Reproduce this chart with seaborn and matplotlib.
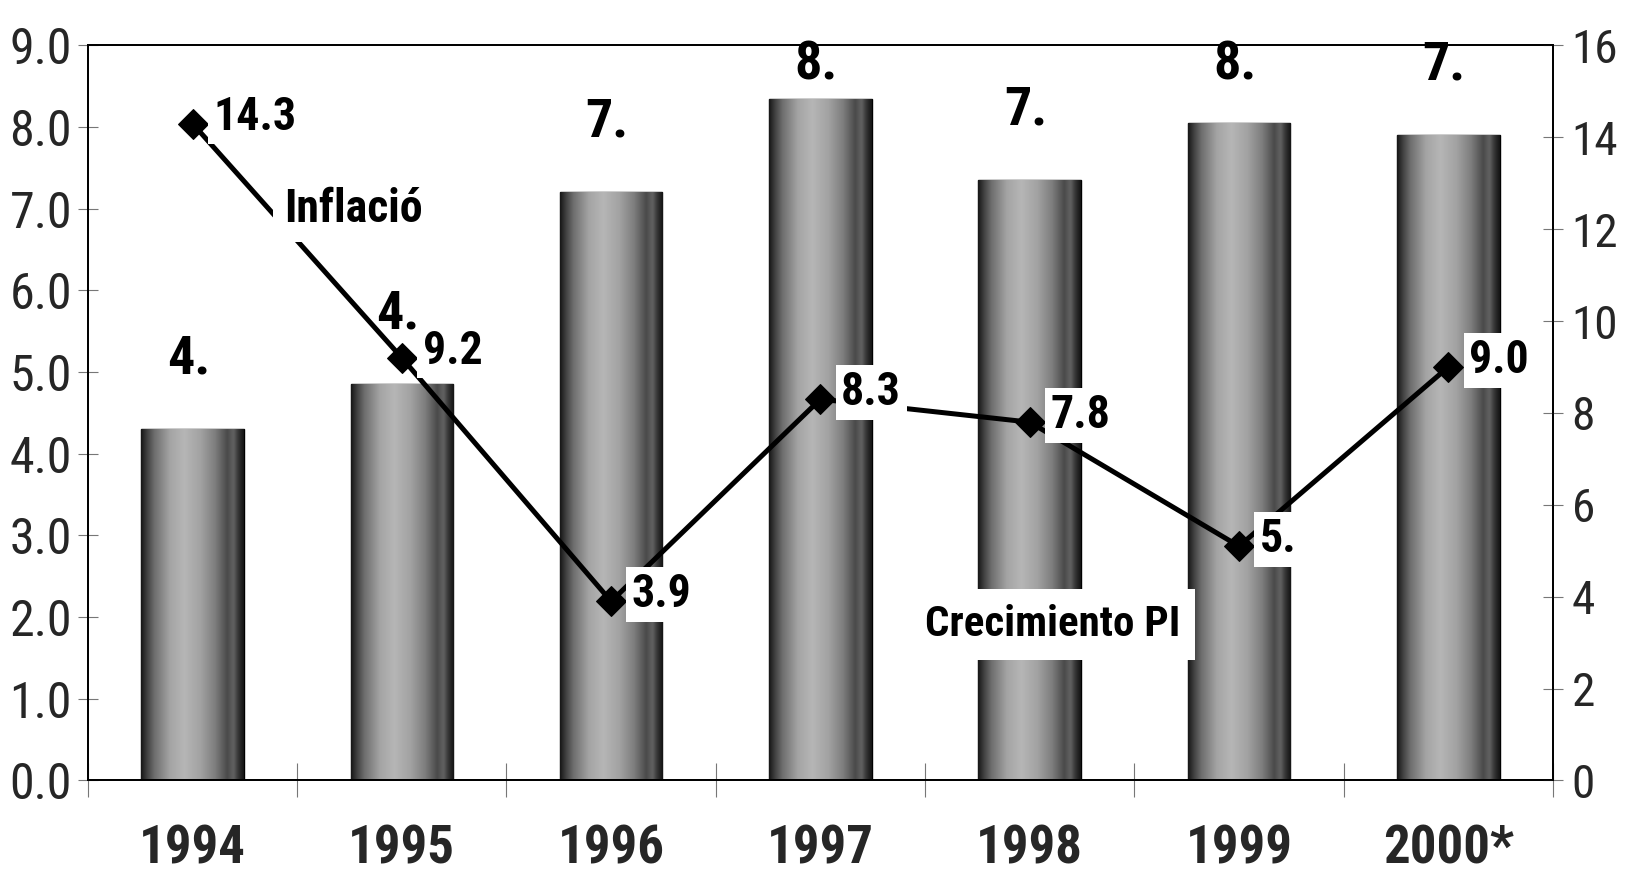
import numpy as np
import pandas as pd
import matplotlib
matplotlib.use("Agg")
import matplotlib.pyplot as plt
import matplotlib.font_manager as fm
from matplotlib.colors import LinearSegmentedColormap
import seaborn as sns

# ---------------- data ----------------
years = ["1994", "1995", "1996", "1997", "1998", "1999", "2000*"]
growth = [4.3, 4.85, 7.2, 8.35, 7.35, 8.05, 7.9]          # Crecimiento PI (left axis)
growth_labels = ["4.", "4.", "7.", "8.", "7.", "8.", "7."]
inflation = [14.3, 9.2, 3.9, 8.3, 7.8, 5.1, 9.0]          # Inflació (right axis)
inflation_labels = ["14.3", "9.2", "3.9", "8.3", "7.8", "5.", "9.0"]
left_ticks = [0, 1, 2, 3, 4, 5, 6, 7, 8, 9]
left_ticklabels = ["0.0", "1.0", "2.0", "3.0", "4.0", "5.0", "6.0", "7.0", "8.0", "9.0"]
right_ticks = [0, 2, 4, 6, 8, 10, 12, 14, 16]
series_infl = "Inflació"
series_growth = "Crecimiento PI"


def pick_font(names):
    for n in names:
        try:
            fm.findfont(fm.FontProperties(family=n), fallback_to_default=False)
            return n
        except Exception:
            pass
    return "DejaVu Sans"


FONT = pick_font(["Liberation Sans Narrow", "Arial Narrow", "Roboto Condensed", "Liberation Sans"])

sns.set_theme(style="white")
plt.rcParams["font.family"] = [FONT, "DejaVu Sans"]

fig = plt.figure(figsize=(16.27, 8.74), dpi=100)
ax = fig.add_axes([0.054, 0.107, 0.9005, 0.841])

df = pd.DataFrame({"year": years, "growth": growth})
sns.barplot(data=df, x="year", y="growth", color="#888888", saturation=1,
            width=0.49, edgecolor="black", linewidth=1.0, ax=ax, zorder=2)

# cylindrical shading inside each bar
stops = [(0.0, "#161616"), (0.05, "#3c3c3c"), (0.13, "#6e6e6e"), (0.28, "#a4a4a4"),
         (0.42, "#b6b6b6"), (0.58, "#a2a2a2"), (0.72, "#7e7e7e"), (0.84, "#4a4a4a"),
         (0.9, "#626262"), (0.95, "#333333"), (1.0, "#141414")]
cmap = LinearSegmentedColormap.from_list("cyl", stops)
grad = np.linspace(0, 1, 256).reshape(1, -1)
for p in ax.patches:
    x0, w, h = p.get_x(), p.get_width(), p.get_height()
    im = ax.imshow(grad, cmap=cmap, aspect="auto", extent=[x0, x0 + w, 0, h],
                   zorder=2.5, interpolation="bicubic")
    im.set_clip_path(p)

ax.set_xlim(-0.5, len(years) - 0.5)
ax.set_ylim(0, 9)
ax.set_yticks(left_ticks)
ax.set_yticklabels(left_ticklabels)
ax.set_xlabel("")
ax.set_ylabel("")

# bar value labels
for i, (v, lab) in enumerate(zip(growth, growth_labels)):
    ax.text(i - 0.02, min(v + 0.55, 8.45), lab, ha="center", va="bottom",
            fontsize=39, fontweight="bold", color="black", zorder=6)

for sp in ax.spines.values():
    sp.set_visible(True)
    sp.set_color("black")
    sp.set_linewidth(1.3)

ax.tick_params(axis="y", which="major", direction="inout", length=15, width=0.8,
               color="#777777", labelsize=36, pad=4, left=True)
ax.tick_params(axis="x", which="major", length=0, labelsize=38, pad=31)
for t in ax.get_xticklabels():
    t.set_fontweight("bold")
ax.set_xticks(np.arange(-0.5, len(years), 1.0), minor=True)
ax.tick_params(axis="x", which="minor", direction="inout", length=24, width=0.8,
               color="#777777", bottom=True)

# inflation line on secondary axis
ax2 = ax.twinx()
sns.lineplot(x=np.arange(len(years)), y=inflation, ax=ax2, color="black",
             linewidth=3.6, marker="D", markersize=15, markeredgecolor="black",
             zorder=3)
ax2.set_ylim(0, 16)
ax2.set_xlim(-0.5, len(years) - 0.5)
ax2.set_yticks(right_ticks)
ax2.set_yticklabels([str(t) for t in right_ticks])
ax2.tick_params(axis="y", direction="inout", length=15, width=0.8, color="#777777",
                labelsize=34, pad=6, right=True)
ax2.grid(False)
for sp in ax2.spines.values():
    sp.set_color("black")
    sp.set_linewidth(1.3)

for i, (v, lab) in enumerate(zip(inflation, inflation_labels)):
    ax2.annotate(lab, (i, v), xytext=(15, 5), textcoords="offset points",
                 ha="left", va="center", fontsize=33, fontweight="bold",
                 color="black", zorder=6,
                 bbox=dict(boxstyle="square,pad=0.12", fc="white", ec="none"))

ax2.text(0.77, 12.45, series_infl, ha="center", va="center", fontsize=33,
         fontweight="bold", color="black", zorder=6,
         bbox=dict(boxstyle="square,pad=0.25", fc="white", ec="none"))
ax2.text(4.11, 3.4, series_growth, ha="center", va="center", fontsize=31,
         fontweight="bold", color="black", zorder=6,
         bbox=dict(boxstyle="square,pad=0.35", fc="white", ec="none"))

fig.savefig("out.png", dpi=100, facecolor="white")
